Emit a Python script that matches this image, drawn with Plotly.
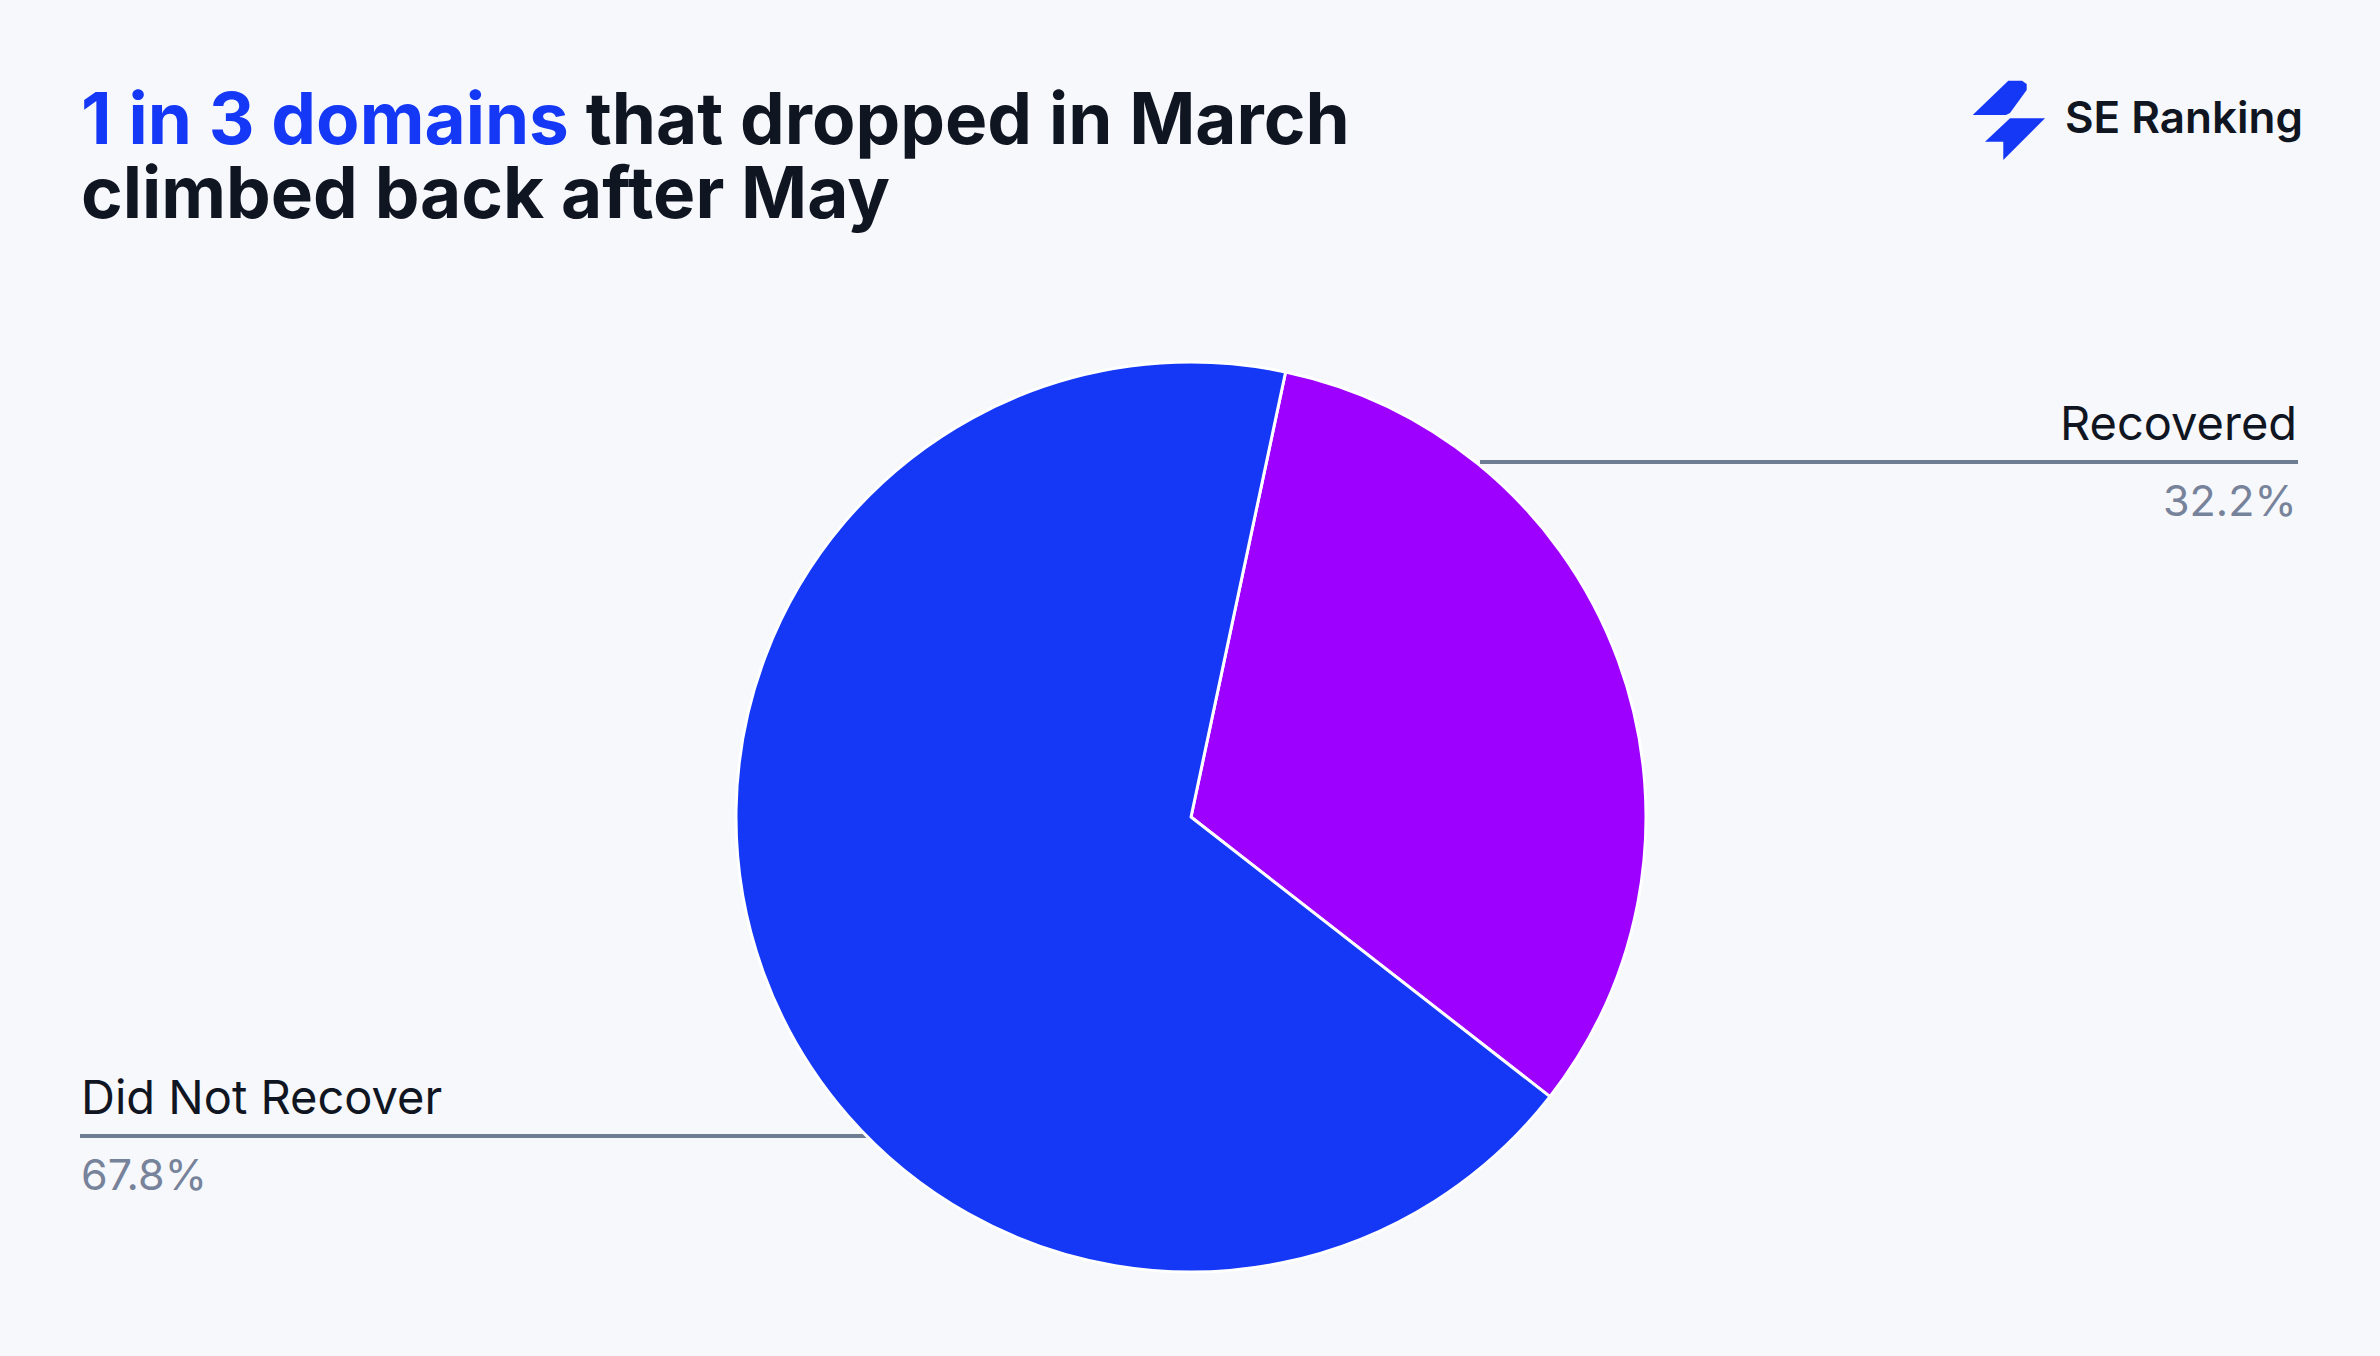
import plotly.graph_objects as go

# ---- data ----
labels = ["Recovered", "Did Not Recover"]
values = [32.2, 67.8]
colors = ["#9E00FF", "#1438F6"]
title_highlight = "1 in 3 domains"
title_rest_1 = " that dropped in March"
title_line_2 = "climbed back after May"
brand = "SE Ranking"

W, H = 2380, 1356
BG = "#F7F8FC"
DARK = "#101522"
GREY = "#77839A"
LINE = "#6F7D93"
FONT = "Inter"


def px(x):
    return x / W


def py(y):
    return 1 - y / H


fig = go.Figure()

# pie: center (1191, 817), radius 455
cx, cy, r = 1191, 817, 455
fig.add_trace(go.Pie(
    labels=labels,
    values=values,
    marker=dict(colors=colors, line=dict(color="white", width=3)),
    sort=False,
    direction="clockwise",
    rotation=12,
    textinfo="none",
    hoverinfo="label+percent",
    showlegend=False,
    domain=dict(x=[px(cx - r), px(cx + r)], y=[py(cy + r), py(cy - r)]),
))

annotations = []
shapes = []

# title: base font size sets the line spacing (1.3em = 74px); spans set the glyph size
TS = 71
title_text = (
    f"<span style='font-size:{TS}px'><span style='color:#1438F6'>{title_highlight}</span>"
    f"{title_rest_1}</span><br><span style='font-size:{TS}px'>{title_line_2}</span>"
)
annotations.append(dict(
    xref="paper", yref="paper", x=px(80), y=py(74), xanchor="left", yanchor="top",
    text=title_text, align="left",
    showarrow=False, borderpad=0,
    font=dict(family=FONT, size=57, color=DARK, weight=700),
))

# slice labels with leader lines
label_layout = {
    "Recovered": dict(side="right", x0=1480, x1=2298, line_y=462),
    "Did Not Recover": dict(side="left", x0=80, x1=868, line_y=1136),
}
for lab, val in zip(labels, values):
    L = label_layout[lab]
    shapes.append(dict(type="line", xref="paper", yref="paper",
                       x0=px(L["x0"]), x1=px(L["x1"]), y0=py(L["line_y"]), y1=py(L["line_y"]),
                       line=dict(color=LINE, width=4), layer="below"))
    if L["side"] == "right":
        xa, xanc = px(L["x1"]), "right"
    else:
        xa, xanc = px(L["x0"]), "left"
    annotations.append(dict(
        xref="paper", yref="paper", x=xa, y=py(L["line_y"] - 40), xanchor=xanc, yanchor="middle",
        text=lab, showarrow=False, borderpad=0,
        font=dict(family=FONT, size=47, color=DARK, weight=400),
    ))
    annotations.append(dict(
        xref="paper", yref="paper", x=xa, y=py(L["line_y"] + 38), xanchor=xanc, yanchor="middle",
        text=f"{val}%", showarrow=False, borderpad=0,
        font=dict(family=FONT, size=43, color=GREY, weight=400),
    ))

# logo icon
def path(points):
    return "M " + " L ".join(f"{px(x):.5f},{py(y):.5f}" for x, y in points) + " Z"

top_shape = [(1972.7, 115), (2008.3, 80.7), (2022, 80.7), (2026.7, 84), (2026.7, 90),
             (2010, 113), (2006, 115)]
bottom_shape = [(1985, 141.7), (2010, 118.3), (2045, 118.3), (2003.3, 160), (2003.3, 159.3),
                (2003.3, 141.7)]
for pts in (top_shape, bottom_shape):
    shapes.append(dict(type="path", xref="paper", yref="paper", path=path(pts),
                       fillcolor="#1438F6", line=dict(width=0)))

annotations.append(dict(
    xref="paper", yref="paper", x=px(2064), y=py(117), xanchor="left", yanchor="middle",
    text=brand, showarrow=False, borderpad=0,
    font=dict(family=FONT, size=44, color=DARK, weight=600),
))

fig.update_layout(
    width=W, height=H,
    margin=dict(l=0, r=0, t=0, b=0),
    paper_bgcolor=BG, plot_bgcolor=BG,
    annotations=annotations, shapes=shapes,
    showlegend=False,
)

fig.write_html("out.html")
